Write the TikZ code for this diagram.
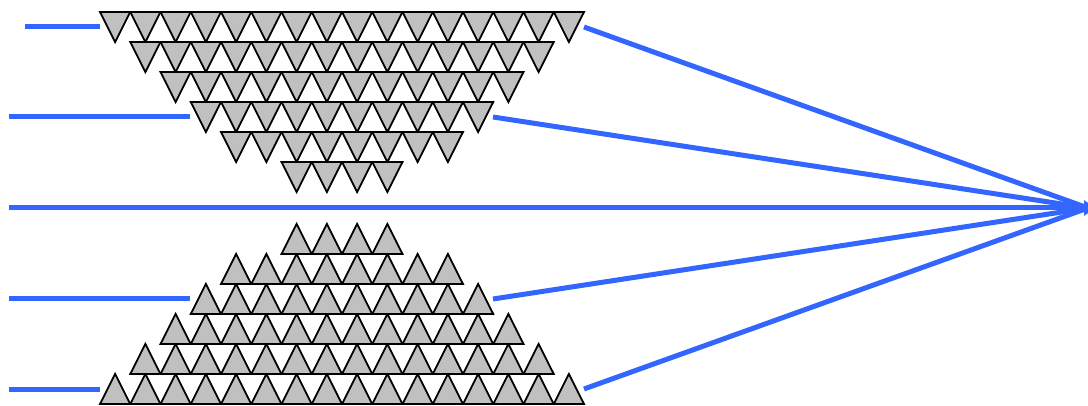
\documentclass[tikz,border=0pt]{standalone}
\usetikzlibrary{arrows.meta}
\definecolor{wireblue}{HTML}{3366FF}
\definecolor{cellgray}{HTML}{C0C0C0}

\begin{document}
\begin{tikzpicture}[
    x=1pt, y=-1pt,
    cell/.style={draw=black, fill=cellgray, line width=1.8pt},
    wire/.style={draw=wireblue, line width=5pt},
    arrow/.style={wire, -{Latex[length=14pt,width=17pt]}},
]
\useasboundingbox (0,0) rectangle (1088,406);

% Triangle rows (top block points down, bottom block points up)
\foreach \r/\first/\n in {0/0/16, 1/1/14, 2/2/12, 3/3/10, 4/4/8, 5/6/4} {
  \foreach \k in {1,...,\n} {
    \pgfmathsetmacro\xl{100+(\first+\k-1)*30.25}
    \draw[cell] (\xl,12+30*\r)  -- ++(30.25,0) -- ++(-15.125,30)  -- cycle;
    \draw[cell] (\xl,404-30*\r) -- ++(30.25,0) -- ++(-15.125,-30) -- cycle;
  }
}

% Wire end points
\coordinate (tip)    at (1088,208);
\coordinate (tipend) at (1098,208);
\coordinate (in1)  at (25,27);   \coordinate (row1l) at (100,27);  \coordinate (row1r) at (584,27);
\coordinate (in2)  at (9,117);   \coordinate (row4l) at (190,117); \coordinate (row4r) at (493,117);
\coordinate (in3)  at (9,208);
\coordinate (in4)  at (9,299);   \coordinate (low4l) at (190,299); \coordinate (low4r) at (493,299);
\coordinate (in5)  at (9,389);   \coordinate (low1l) at (100,389); \coordinate (low1r) at (584,389);

% Left wires
\draw[wire] (in1) -- (row1l);
\draw[wire] (in2) -- (row4l);
\draw[wire] (in4) -- (low4l);
\draw[wire] (in5) -- (low1l);

% Converging wires
\draw[wire]  (row1r) -- (tip);
\draw[wire]  (row4r) -- (tip);
\draw[wire]  (low4r) -- (tip);
\draw[wire]  (low1r) -- (tip);
\draw[arrow] (in3)   -- (tipend);
\end{tikzpicture}
\end{document}
